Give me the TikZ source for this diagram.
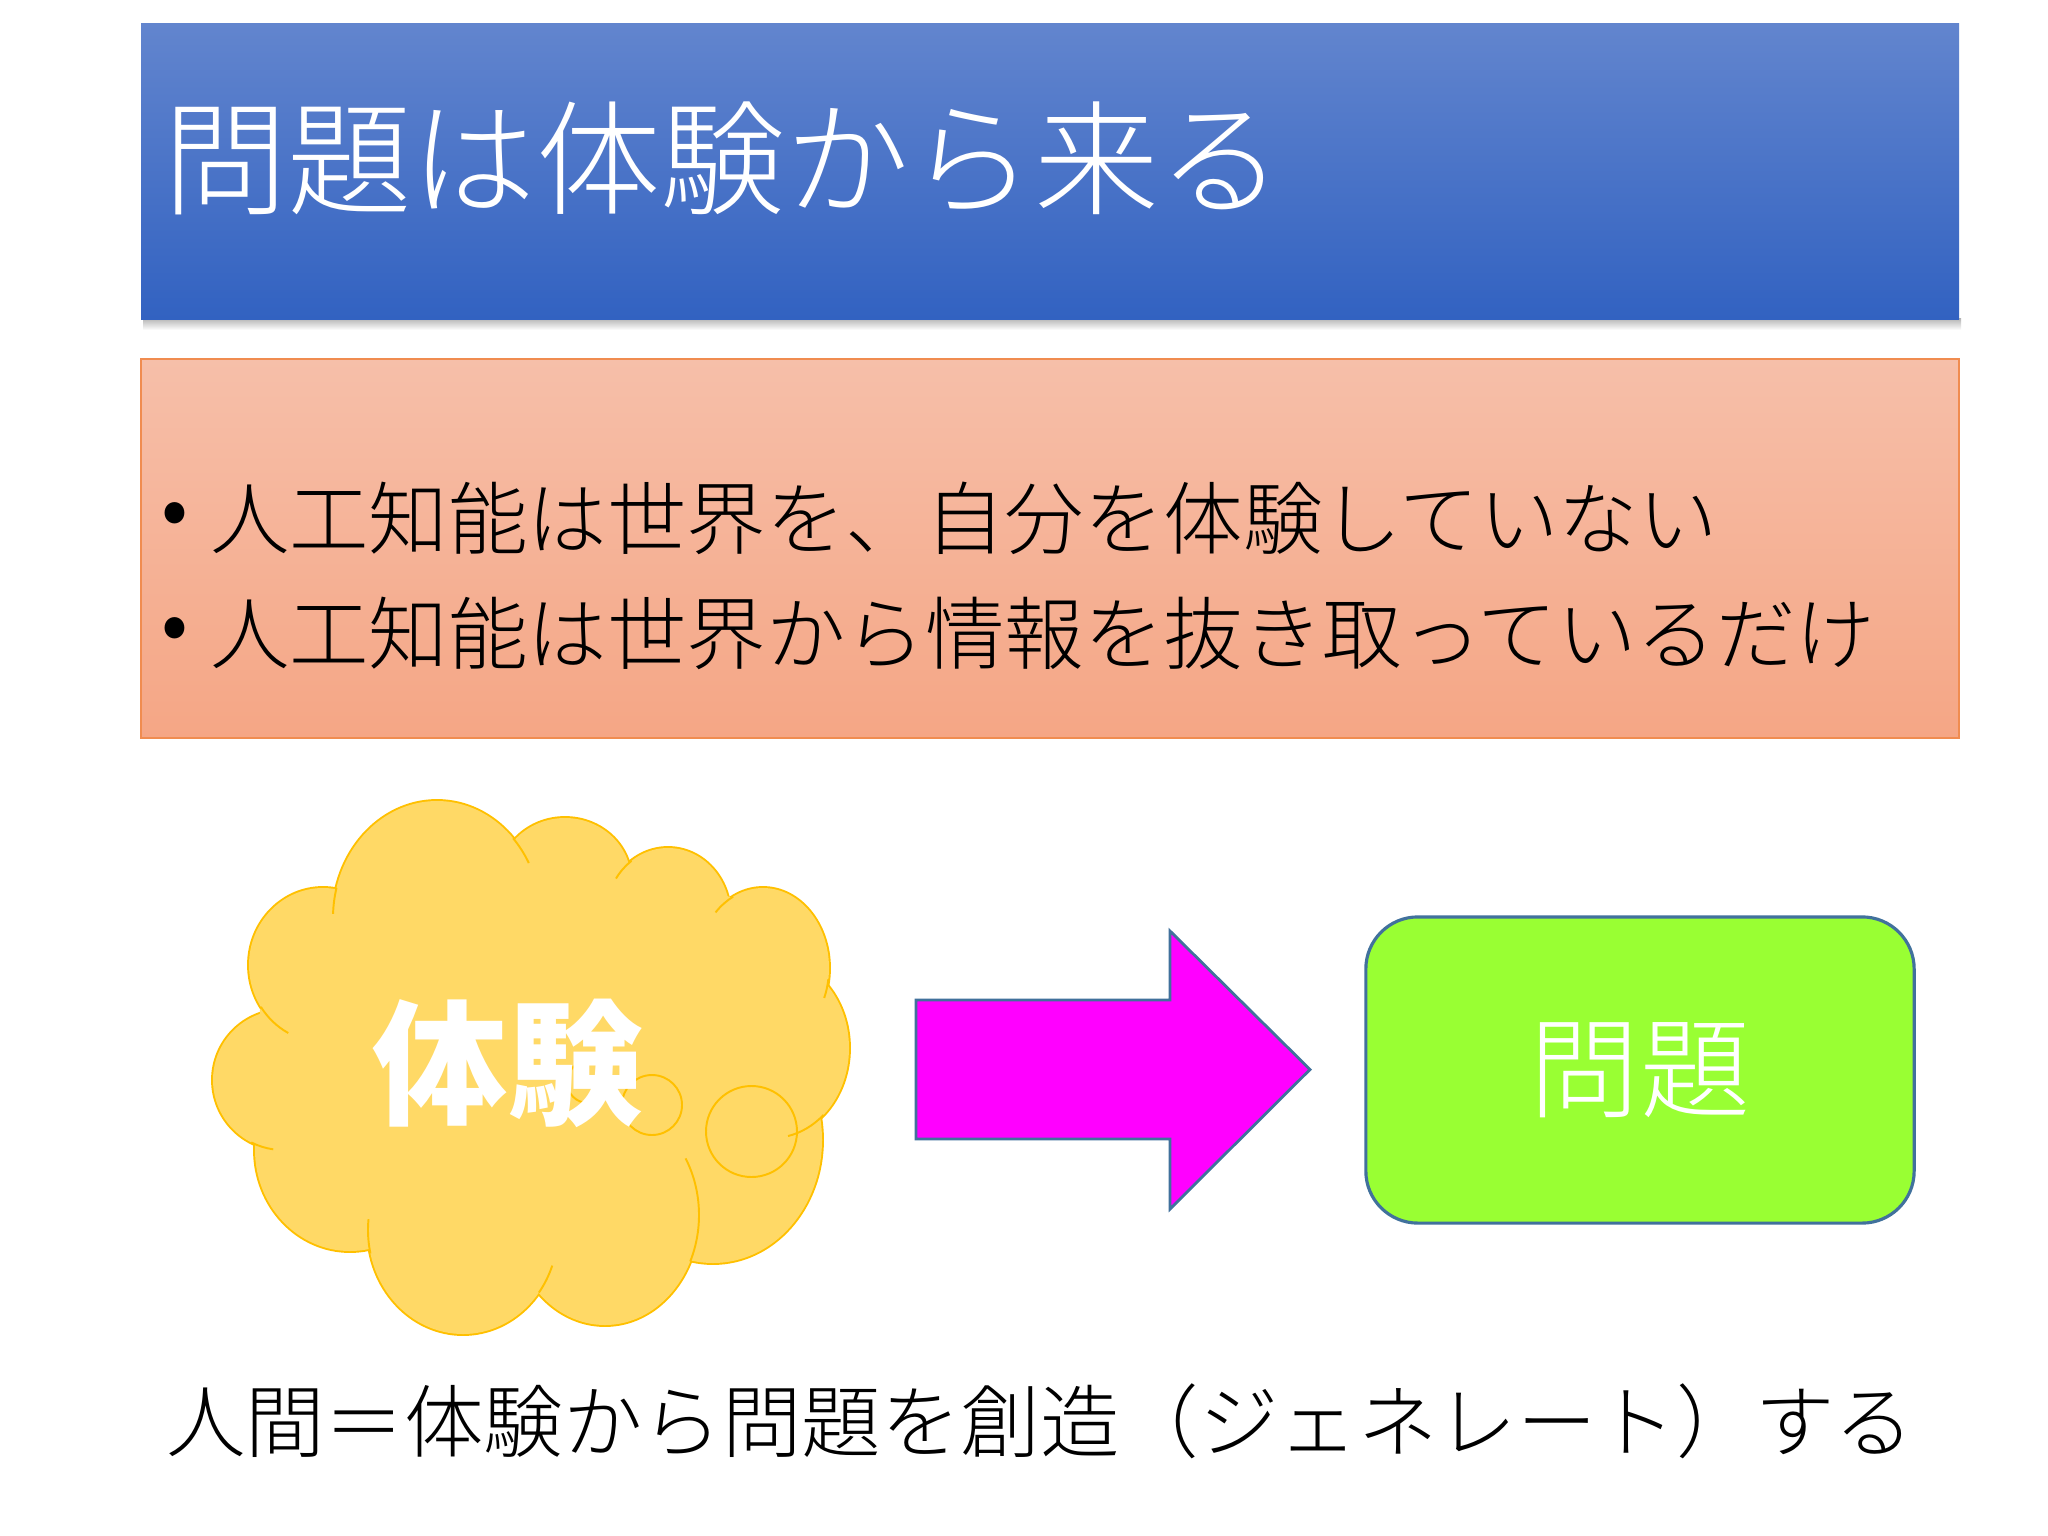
\documentclass[tikz,border=0pt]{standalone}
\usepackage{fontspec}
\setmainfont{Noto Sans CJK JP}
\newfontfamily\lightjp{Noto Sans CJK JP Light}
\definecolor{barTop}{RGB}{98,133,206}
\definecolor{barBot}{RGB}{50,98,193}
\definecolor{pinkTop}{RGB}{246,191,169}
\definecolor{pinkBot}{RGB}{245,166,133}
\definecolor{pinkLine}{RGB}{240,140,80}
\definecolor{cloudFill}{RGB}{255,217,102}
\definecolor{cloudLine}{RGB}{255,192,0}
\definecolor{arrowFill}{RGB}{255,0,255}
\definecolor{edgeBlue}{RGB}{65,113,156}
\definecolor{boxGreen}{RGB}{153,255,51}
\begin{document}
\begin{tikzpicture}[x=0.01cm,y=-0.01cm,
  txt/.style={inner sep=0pt, outer sep=0pt, anchor=west},
  titletext/.style={txt, text=white, font=\lightjp\fontsize{35.4pt}{40pt}\selectfont},
  bodytext/.style={txt, text=black, font=\lightjp\fontsize{22.6pt}{26pt}\selectfont},
  cloudedge/.style={draw=cloudLine, line width=1.1pt},
  cloudtail/.style={draw=cloudLine, line width=0.55pt},
  probbox/.style={draw=edgeBlue, line width=0.9pt, fill=boxGreen, rounded corners=14.8pt,
     minimum width=5.48cm, minimum height=3.06cm, inner sep=0pt, outer sep=0pt,
     text=white, font=\lightjp\fontsize{31.3pt}{36pt}\selectfont},
  ]
\fill[white] (0,0) rectangle (2048,1536);
\useasboundingbox (0,0) rectangle (2048,1536);
% title bar with shadow
\shade[top color=black!30, bottom color=white] (143,318) rectangle (1961,330);
\shade[top color=barTop, bottom color=barBot] (141,23) rectangle (1959,319);
\node[titletext] (title) at (163,158) {問題は体験から来る};
% pink box
\shade[top color=pinkTop, bottom color=pinkBot, draw=pinkLine, line width=0.6pt] (141,359) rectangle (1959,738);
\node[txt, font=\fontsize{22.5pt}{26pt}\selectfont, anchor=center] (b1) at (175,520) {•};
\node[bodytext] (l1) at (210,518) {人工知能は世界を、自分を体験していない};
\node[txt, font=\fontsize{22.5pt}{26pt}\selectfont, anchor=center] (b2) at (175,635) {•};
\node[bodytext] (l2) at (210,633) {人工知能は世界から情報を抜き取っているだけ};
% cloud
\def\lobes{437/918/104/117, 323/965/74/77, 565/880/66/62, 668/915/62/67, 763/968/66/80,
  772/1048/77/90, 713/1140/109/123, 605/1215/94/110, 463/1230/95/104, 350/1150/95/101, 283/1080/70/70}
\foreach \cx/\cy/\rx/\ry in \lobes {\draw[cloudedge] (\cx,\cy) ellipse [x radius=\rx, y radius=\ry];}
\foreach \cx/\cy/\rx/\ry in \lobes {\fill[cloudFill] (\cx,\cy) ellipse [x radius=\rx, y radius=\ry];}
\fill[cloudFill] (335,890) -- (513,840) -- (630,863) -- (730,897) -- (823,983) -- (820,1117)
  -- (687,1260) -- (540,1290) -- (373,1248) -- (255,1143) -- (260,1010) -- cycle;
\foreach \cx/\cy/\rx/\ry/\sa/\ea in {437/918/104/117/-43/-28, 437/918/104/117/195/182,
  668/915/62/67/-147/-126, 763/968/66/80/-136/-117, 763/968/66/80/8/22,
  772/1048/77/90/48/78, 605/1215/94/110/-31/25, 463/1230/95/104/20/37,
  463/1230/95/104/167/186, 283/1080/70/70/98/117, 323/965/74/77/118/147}
  {\draw[cloudtail] ({\cx+\rx*cos(\sa)},{\cy+\ry*sin(\sa)}) arc[start angle=\sa, end angle=\ea, x radius=\rx, y radius=\ry];}
\draw[cloudtail] (652,1105) circle [radius=30];
\draw[cloudtail] (751.5,1131.5) circle [radius=45.5];
\draw[cloudtail] (588,1082) circle [radius=21];
\node[inner sep=0pt, text=white, font=\fontsize{38.4pt}{44pt}\selectfont\bfseries] (exp) at (508,1063) {体験};
% arrow
\coordinate (atail) at (916,1069.5);
\coordinate (atip) at (1310,1069.5);
\filldraw[fill=arrowFill, draw=edgeBlue, line width=0.8pt]
  (916,1000) -- (1170,1000) -- (1170,931) -- (atip) -- (1170,1209) -- (1170,1139) -- (916,1139) -- cycle;
% problem box
\node[probbox] (prob) at (1640,1070) {問題};
% bottom text
\node[bodytext] (bottom) at (166,1421) {人間＝体験から問題を創造（ジェネレート）する};
\end{tikzpicture}
\end{document}
